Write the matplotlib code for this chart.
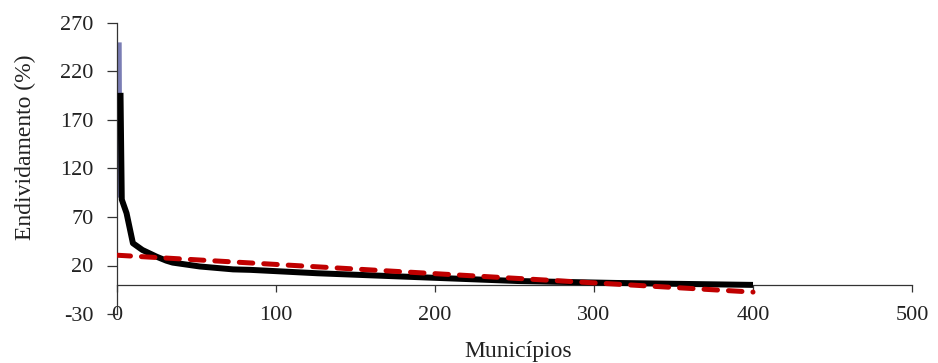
import matplotlib
matplotlib.use("Agg")
import matplotlib.pyplot as plt

# Data
outlier_x = [1.2, 1.6]
outlier_y = [250, 90]

mun_x = [2.2, 3, 6, 10, 16, 25, 31, 35, 52, 73, 84, 126, 189, 252, 314, 400]
mun_y = [198, 88, 74, 43, 36, 29, 25, 23, 19, 16, 15.5, 12, 8, 4, 2, 0]

trend_x = [0, 400]
trend_y = [30.6, -7.4]

xticks = [0, 100, 200, 300, 400, 500]
yticks = [-30, 20, 70, 120, 170, 220, 270]

plt.rcParams['font.family'] = ['Liberation Serif', 'DejaVu Serif']
plt.rcParams['axes.unicode_minus'] = False

fig = plt.figure(figsize=(9.38, 3.63), dpi=100)
ax = fig.add_axes([117/938, 1-314/363, (912-117)/938, (314-23)/363])

ax.plot(outlier_x, outlier_y, color='#7a7db4', lw=4.0, solid_capstyle='butt', zorder=2)
ax.plot(mun_x, mun_y, color='black', lw=4.3, solid_joinstyle='round',
        solid_capstyle='butt', zorder=3)
ax.plot(trend_x, trend_y, color='#c00000', lw=3.6, dashes=(2.7, 2.2),
        dash_capstyle='round', zorder=4)

ax.set_xlim(0, 500)
ax.set_ylim(-30, 270)
ax.set_xticks(xticks)
ax.set_yticks(yticks)

for s in ['top', 'right']:
    ax.spines[s].set_visible(False)
ax.spines['bottom'].set_position(('data', 0))
ax.spines['bottom'].set_color('#333333')
ax.spines['left'].set_color('#333333')
ax.spines['bottom'].set_linewidth(0.9)
ax.spines['left'].set_linewidth(0.9)

ax.tick_params(axis='x', direction='out', length=5, width=0.9, pad=10,
               labelsize=16, colors='#333333', labelcolor='#222222')
ax.tick_params(axis='y', direction='out', length=7, width=0.9, pad=10,
               labelsize=16, colors='#333333', labelcolor='#222222')

fig.text(25/938, 1-147/363, 'Endividamento (%)', rotation=90, ha='center',
         va='center', fontsize=17, color='#222222')
fig.text(518/938, 1-352/363, 'Municípios', ha='center', va='center',
         fontsize=17, color='#222222')

fig.savefig('out.png', dpi=100)
